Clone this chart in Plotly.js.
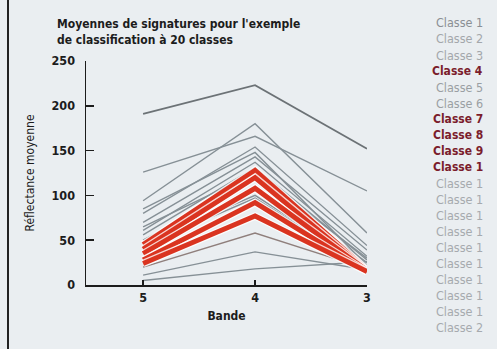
<!DOCTYPE html>
<html><head><meta charset="utf-8">
<script src="https://cdn.plot.ly/plotly-3.0.1.min.js"></script>
<style>html,body{margin:0;padding:0;background:#eaeef1;}#chart{width:497px;height:349px;}</style>
</head><body><div id="chart"></div>
<script>
// Bands (x categories)
const bands = ['5', '4', '3'];
// Legend labels as printed (truncated in the original)
const classLabels = ['Classe 1','Classe 2','Classe 3','Classe 4','Classe 5','Classe 6','Classe 7','Classe 8','Classe 9','Classe 1',
  'Classe 1','Classe 1','Classe 1','Classe 1','Classe 1','Classe 1','Classe 1','Classe 1','Classe 1','Classe 2'];
// Highlighted (red) classes
const highlighted = [false,false,false,true,false,false,true,true,true,true,
  false,false,false,false,false,false,false,false,false,false];
// Mean reflectance per class, at bands 5, 4, 3
const class1  = [191, 223, 152];
const class2  = [126, 166, 105];
const class3  = [94, 180, 58];
const class4  = [45, 128, 17];
const class5  = [80, 154, 44];
const class6  = [70, 143, 39];
const class7  = [40, 120, 16];
const class8  = [35, 108, 16];
const class9  = [28, 92, 15];
const class10 = [24, 77, 15];
const class11 = [61, 137, 32];
const class12 = [56, 131, 28];
const class13 = [50, 117, 25];
const class14 = [85, 148, 22];
const class15 = [46, 100, 20];
const class16 = [43, 97, 18];
const class17 = [65, 125, 30];
const class18 = [20, 58, 18];
const class19 = [11, 37, 17];
const class20 = [5, 18, 26];
const values = [class1,class2,class3,class4,class5,class6,class7,class8,class9,class10,
  class11,class12,class13,class14,class15,class16,class17,class18,class19,class20];
const legendColors = ['#8a8f94','#a3a7ab','#a3a7ab','#7b1d2c','#9a9fa3','#9a9fa3','#7b1d2c','#7b1d2c','#7b1d2c','#7b1d2c',
  '#a6aaae','#a6aaae','#a6aaae','#a6aaae','#a6aaae','#a6aaae','#a6aaae','#a6aaae','#a6aaae','#a6aaae'];

const FONT = 'DejaVu Sans Condensed, DejaVu Sans, sans-serif';
const xIdx = bands.map((b, i) => i);
const traces = [];
// gray lines first
values.forEach((v, i) => {
  if (highlighted[i]) return;
  traces.push({x: xIdx, y: v, type: 'scatter', mode: 'lines', name: classLabels[i], showlegend: false,
    line: {color: i === 0 ? '#6c7276' : (i === 17 ? '#8f7f7c' : '#869096'), width: i === 0 ? 1.8 : 1.4}, hoverinfo: 'skip'});
});
// red lines with white halo
values.forEach((v, i) => {
  if (!highlighted[i]) return;
  traces.push({x: xIdx, y: v, type: 'scatter', mode: 'lines', showlegend: false,
    line: {color: 'rgba(255,255,255,0.8)', width: 7.5}, hoverinfo: 'skip'});
  traces.push({x: xIdx, y: v, type: 'scatter', mode: 'lines', name: classLabels[i], showlegend: false,
    line: {color: '#da3420', width: 5}, hoverinfo: 'skip'});
});

const W = 497, H = 349, ml = 86, mr = 130, mt = 61, mb = 64;
const pw = W - ml - mr, ph = H - mt - mb;
const annotations = classLabels.map((t, i) => ({
  xref: 'paper', yref: 'paper', x: (485 - ml) / pw, y: (H - mb - (23 + i * 16)) / ph,
  text: highlighted[i] ? '<b>' + t + '</b>' : t,
  showarrow: false, xanchor: 'right', yanchor: 'middle',
  font: {family: FONT, size: highlighted[i] ? 12 : 12.5, color: legendColors[i]}
}));

const axisFont = {family: FONT, size: 12.5, color: '#1c1c1c', weight: 'bold'};
const layout = {
  width: W, height: H,
  margin: {l: ml, r: mr, t: mt, b: mb, pad: 0},
  paper_bgcolor: '#eaeef1', plot_bgcolor: 'rgba(0,0,0,0)',
  font: {family: FONT, color: '#1c1c1c'},
  title: {text: '<b>Moyennes de signatures pour l\'exemple<br>de classification à 20 classes</b>',
    xref: 'container', yref: 'container', x: 57/497, xanchor: 'left', y: 1 - 28/349, yanchor: 'middle',
    font: {family: FONT, size: 12, color: '#1c1c1c'}},
  xaxis: {range: [-0.51, 2], tickvals: xIdx, ticktext: bands, showgrid: false, zeroline: false,
    showline: true, linecolor: '#1c1c1c', linewidth: 1.5, ticks: 'inside', ticklen: 5, tickcolor: '#1c1c1c', tickwidth: 1.5,
    tickfont: axisFont,
    title: {text: '<b>Bande</b>', font: {family: FONT, size: 12, color: '#1c1c1c'}, standoff: 8}},
  yaxis: {range: [0, 250], tickvals: [0, 50, 100, 150, 200, 250], showgrid: false, zeroline: false,
    showline: true, linecolor: '#1c1c1c', linewidth: 1.5, ticks: 'inside', ticklen: 8, tickcolor: '#1c1c1c', tickwidth: 1.5,
    tickfont: axisFont, ticklabelstandoff: 7,
    title: {text: 'Réflectance moyenne', font: {family: FONT, size: 12, color: '#1c1c1c'}, standoff: 14}},
  annotations: annotations,
  shapes: [{type: 'line', xref: 'paper', yref: 'paper', x0: (8 - ml) / pw, x1: (8 - ml) / pw, y0: -mb/ph, y1: (ph + mt)/ph,
    line: {color: '#222', width: 2}}]
};
Plotly.newPlot('chart', traces, layout, {displayModeBar: false, staticPlot: true});
</script></body></html>
